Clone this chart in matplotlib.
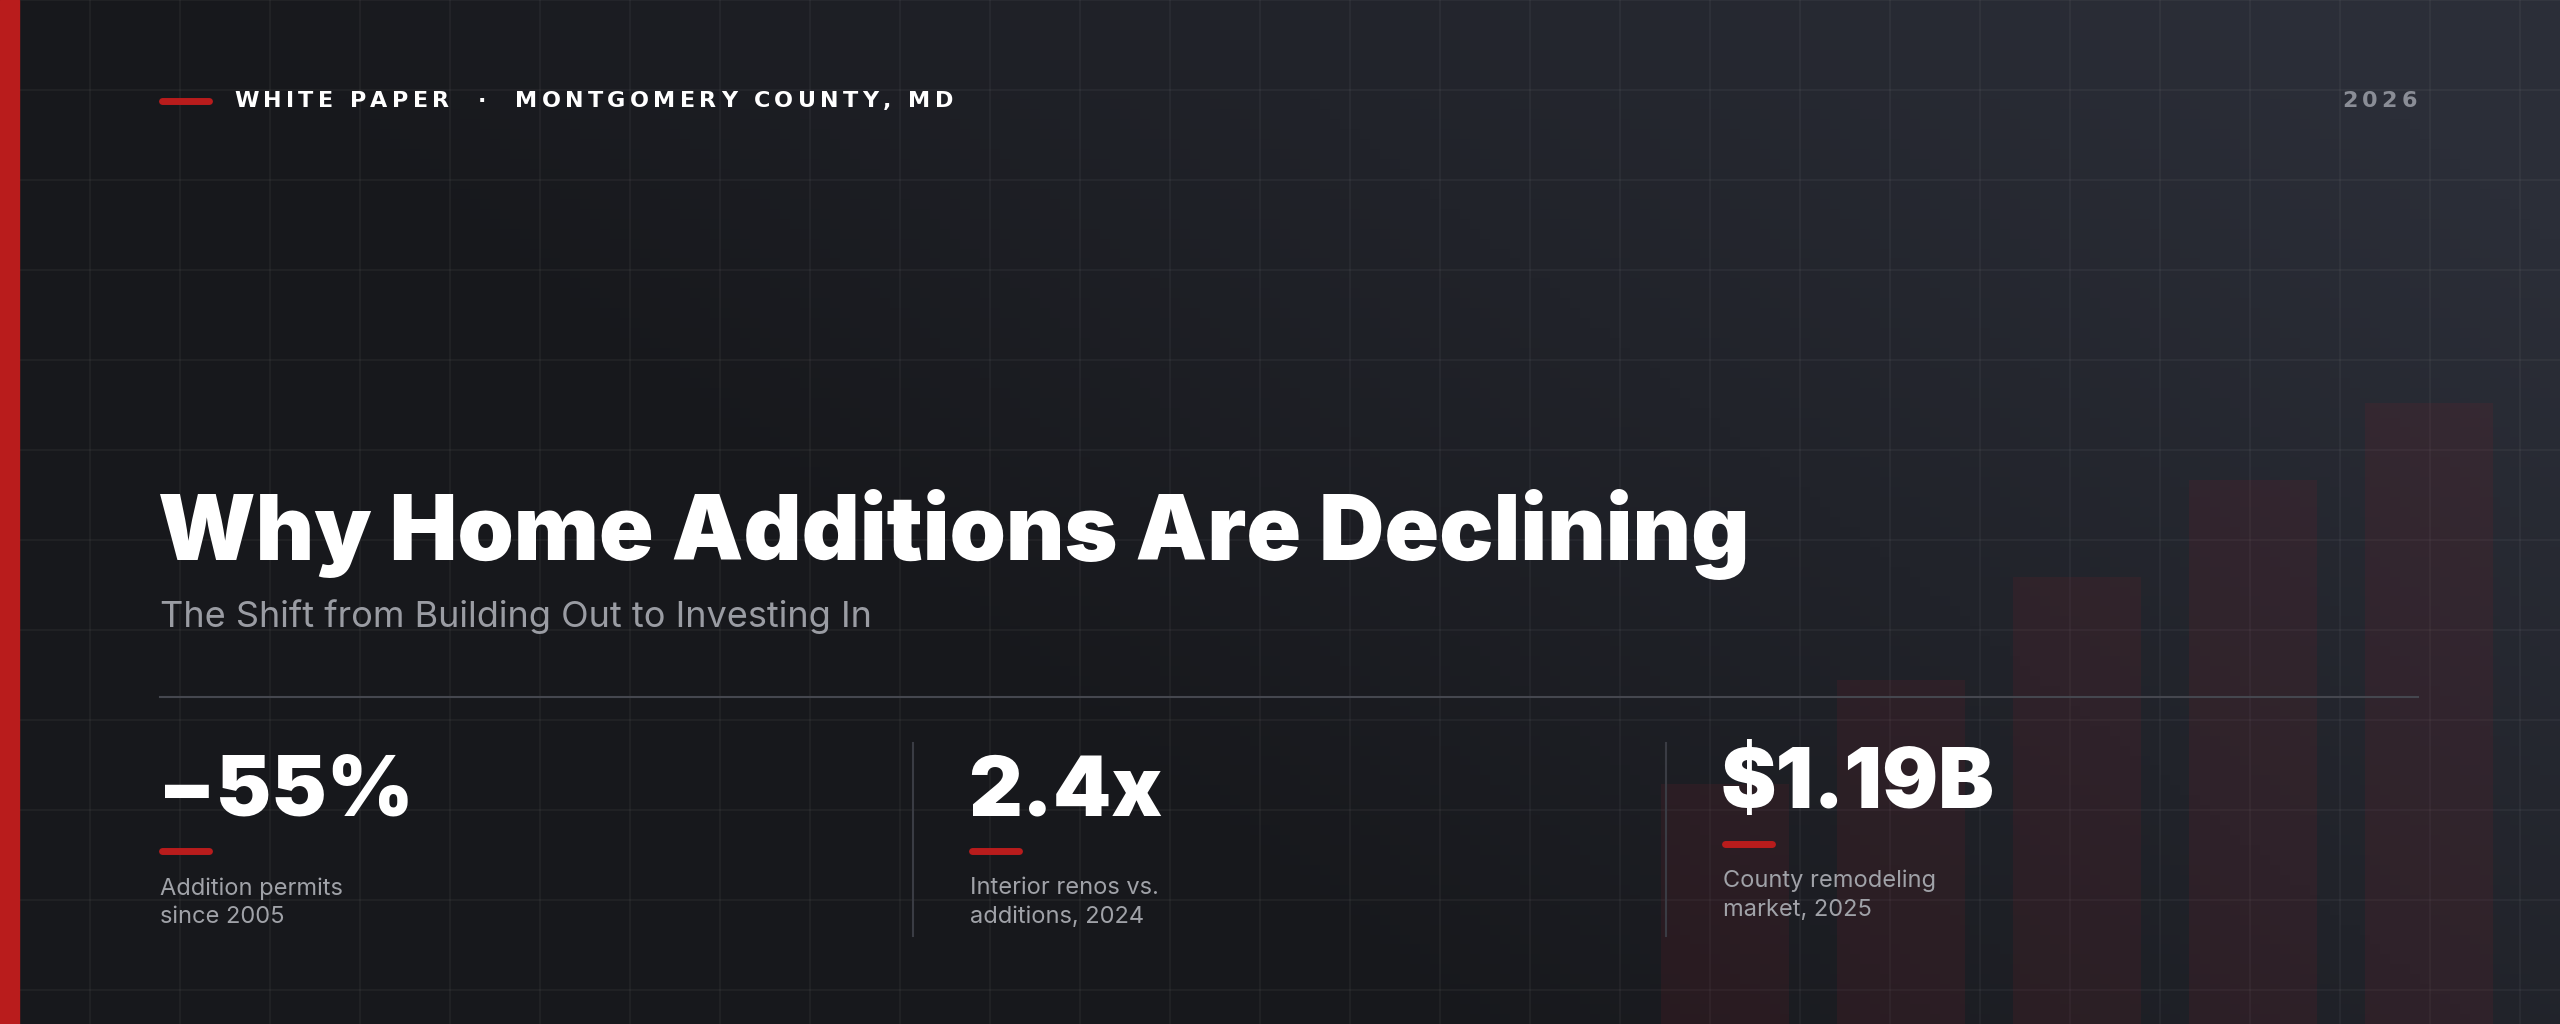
import matplotlib.pyplot as plt
import numpy as np

# background bar motif (pixel heights)
bar_x = [1725, 1901, 2077, 2253, 2429]
bar_heights = [240, 344, 447, 544, 621]

stat_values = ["\u221255%", "2.4x", "$1.19B"]
stat_labels = ["Addition permits\nsince 2005", "Interior renos vs.\nadditions, 2024",
               "County remodeling\nmarket, 2025"]
stat_x = [160, 970, 1723]

W, H = 2560, 1024
RED = "#b91c1c"

fig = plt.figure(figsize=(25.6, 10.24), dpi=100)
ax = fig.add_axes([0, 0, 1, 1])
ax.set_xlim(0, W)
ax.set_ylim(H, 0)
ax.axis("off")
renderer = fig.canvas.get_renderer()


def spaced_text(x, y, s, spacing, ha="left", **kw):
    """Draw text char by char with extra letter spacing (pixels)."""
    widths = []
    for ch in s:
        t = ax.text(0, 0, ch, **kw)
        widths.append(t.get_window_extent(renderer).width if ch != " " else None)
        t.remove()
    sp = ax.text(0, 0, "a a", **kw)
    sp_w = sp.get_window_extent(renderer).width
    sp.remove()
    a = ax.text(0, 0, "aa", **kw)
    sp_w -= a.get_window_extent(renderer).width
    a.remove()
    widths = [w if w is not None else sp_w for w in widths]
    total = sum(widths) + spacing * (len(s) - 1)
    cx = x - total if ha == "right" else x
    for ch, w in zip(s, widths):
        ax.text(cx, y, ch, **kw)
        cx += w + spacing


# diagonal gradient background
gx, gy = np.meshgrid(np.linspace(0, 1, 256), np.linspace(0, 1, 103))
t = np.clip((gx - 0.35) * 1.2 + (0.6 - gy) * 0.6, 0, 1)
c0 = np.array([0x17, 0x18, 0x1c]) / 255
c1 = np.array([0x2b, 0x2e, 0x38]) / 255
img = c0 + (c1 - c0) * t[..., None]
ax.imshow(img, extent=[0, W, H, 0], aspect="auto", zorder=0)

# grid
for x in range(0, W, 90):
    ax.axvline(x, color="#ffffff", alpha=0.04, lw=1.5, zorder=1)
for y in range(0, H, 90):
    ax.axhline(y, color="#ffffff", alpha=0.04, lw=1.5, zorder=1)

# faint red bars
ax.bar(bar_x, bar_heights, width=128, bottom=H - np.array(bar_heights),
       color="#7a1f2a", alpha=0.16, zorder=2)

# left red edge
ax.add_patch(plt.Rectangle((0, 0), 19, H, color=RED, zorder=5))

# header
ax.plot([162, 209], [101, 101], color=RED, lw=5, solid_capstyle="round", zorder=6)
hdr = dict(color="white", fontsize=16, fontweight="bold", family="DejaVu Sans",
           va="center", zorder=6)
spaced_text(234, 101, "WHITE PAPER  \u00b7  MONTGOMERY COUNTY, MD", 4.4, **hdr)
spaced_text(2417, 101, "2026", 4.4, ha="right", **dict(hdr, color="#8a8d96"))

# title
ax.text(158, 560, "Why Home Additions Are Declining", color="white", fontsize=65,
        fontweight="black", family="Inter", va="baseline", zorder=6)
ax.text(160, 617, "The Shift from Building Out to Investing In", color="#9a9ca3",
        fontsize=26, family="Inter", va="center", zorder=6)

ax.plot([160, 2418], [697, 697], color="#45474f", lw=1.5, zorder=6)

for i, (val, lab, x) in enumerate(zip(stat_values, stat_labels, stat_x)):
    dy = -7 if i == 2 else 0
    ax.text(x - 2, 815 + dy, val, color="white", fontsize=60, fontweight="black",
            family="Inter", va="baseline", zorder=6)
    ax.plot([x + 2, x + 49], [851 + dy, 851 + dy], color=RED, lw=5,
            solid_capstyle="round", zorder=6)
    ax.text(x, 877 + dy, lab, color="#a0a2a8", fontsize=17, family="Inter",
            va="top", linespacing=1.4, zorder=6)

for x in [913, 1666]:
    ax.plot([x, x], [743, 936], color="#3a3c44", lw=1.5, zorder=6)

fig.savefig("out.png", dpi=100)
